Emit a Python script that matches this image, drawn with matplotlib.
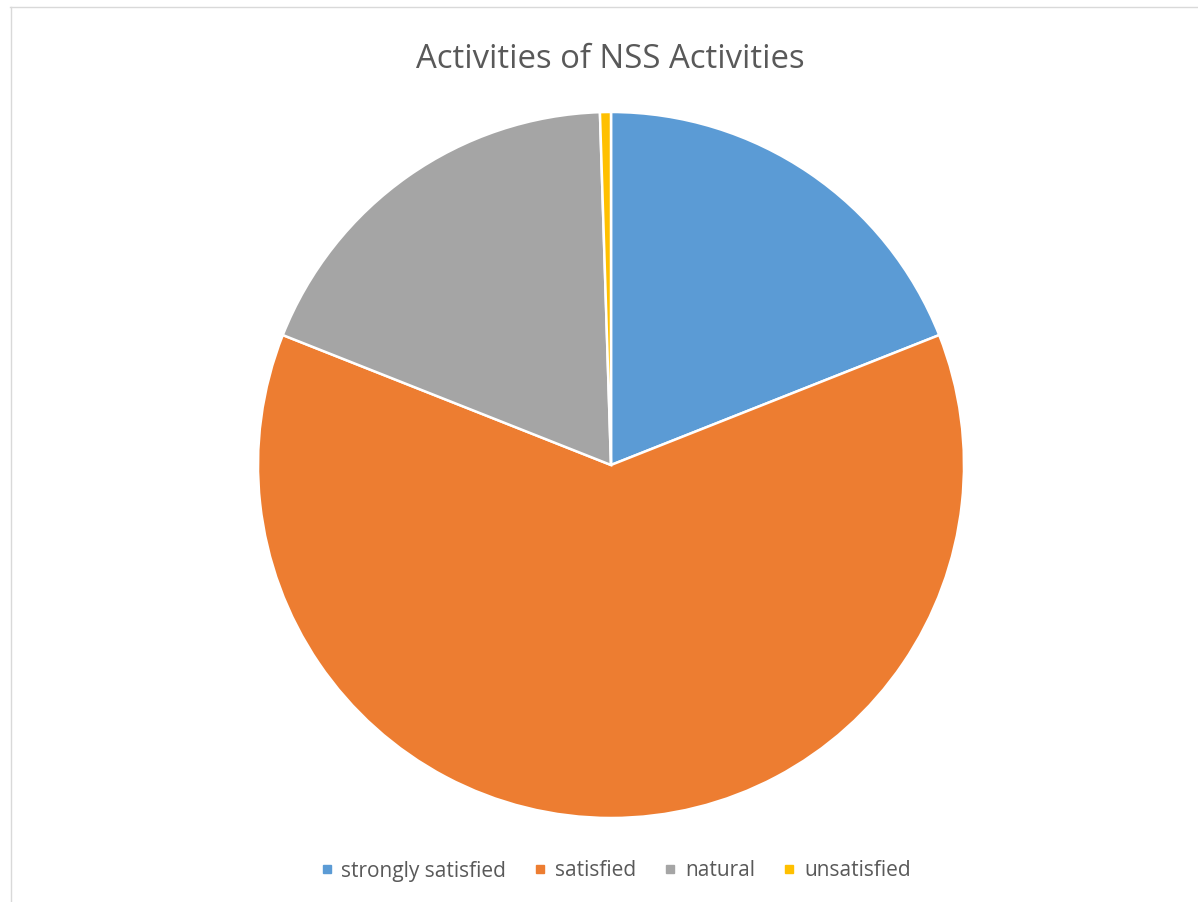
import matplotlib
matplotlib.use("Agg")
import matplotlib.pyplot as plt
from matplotlib.lines import Line2D

labels = ["strongly satisfied", "satisfied", "natural", "unsatisfied"]
values = [19.0, 62.0, 18.5, 0.5]
colors = ["#5B9BD5", "#ED7D31", "#A5A5A5", "#FFC000"]
title = "Activities of NSS Activities"

W, H = 1198, 902
fig = plt.figure(figsize=(W / 100, H / 100), dpi=100)
fig.patch.set_facecolor("white")

cx, cy, r = 611, 465, 353
ax = fig.add_axes([(cx - r) / W, (H - cy - r) / H, 2 * r / W, 2 * r / H])
ax.pie(values, colors=colors, startangle=90, counterclock=False,
       wedgeprops=dict(edgecolor="white", linewidth=1.8))
ax.set_xlim(-1, 1)
ax.set_ylim(-1, 1)
ax.set_aspect("equal")
ax.axis("off")

fig.text(610 / W, 1 - 59 / H, title, ha="center", va="center",
         fontsize=23.7, color="#595959", family="Open Sans")

handles = [Line2D([], [], marker="s", linestyle="none", markersize=6,
                  markerfacecolor=c, markeredgecolor=c) for c in colors]
fig.legend(handles, labels, loc="center", bbox_to_anchor=(616 / W, 1 - 871 / H),
           ncol=4, frameon=False, handlelength=0.5, handletextpad=0.45,
           columnspacing=1.4, prop=dict(family="Open Sans", size=15),
           labelcolor="#595959")

# chart frame (cropped)
fig.add_artist(Line2D([10 / W, 1197 / W], [1 - 7 / H, 1 - 7 / H],
                      transform=fig.transFigure, color="#D9D9D9", linewidth=1))
fig.add_artist(Line2D([10.5 / W, 10.5 / W], [1 - 7 / H, 0],
                      transform=fig.transFigure, color="#D9D9D9", linewidth=1))

fig.savefig("out.png", dpi=100, facecolor="white")
